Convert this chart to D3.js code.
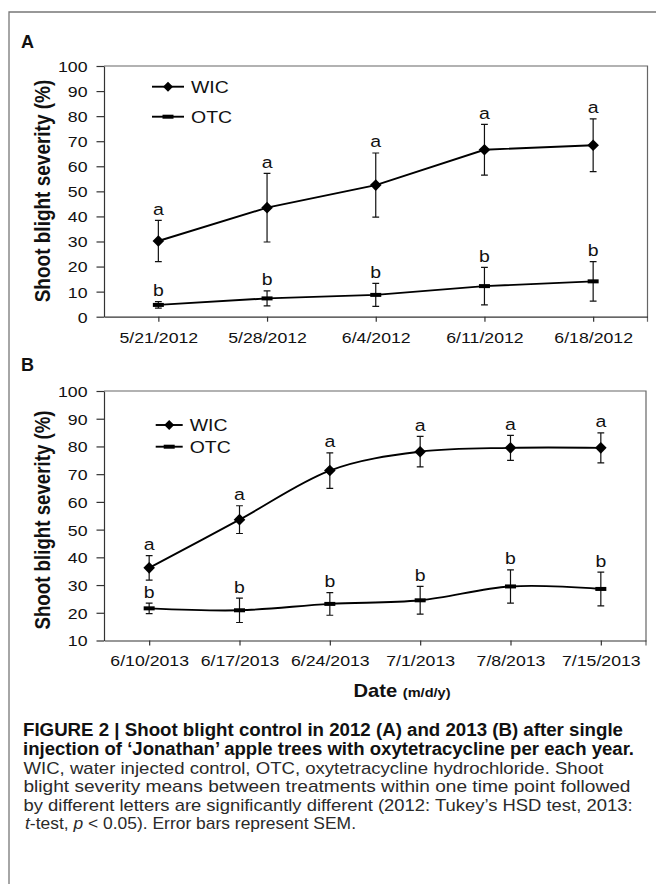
<!DOCTYPE html>
<html>
<head>
<meta charset="utf-8">
<script src="https://cdn.jsdelivr.net/npm/d3@7"></script>
<style>
  body { margin: 0; background: #fff; }
  text { font-family: "Liberation Sans", Arial, sans-serif; fill: #111; }
</style>
</head>
<body>
<div id="chart"></div>
<script>
//#region Data
const datesA = ["5/21/2012", "5/28/2012", "6/4/2012", "6/11/2012", "6/18/2012"];
const wicA = [30.2, 43.5, 52.5, 66.6, 68.4];
const wicErrA = [8.2, 13.7, 12.8, 10.1, 10.5];
const otcA = [4.7, 7.3, 8.7, 12.2, 14.1];
const otcErrA = [1.3, 3.0, 4.6, 7.5, 7.9];
const lettersWicA = ["a", "a", "a", "a", "a"];
const lettersOtcA = ["b", "b", "b", "b", "b"];
const yTicksA = [0, 10, 20, 30, 40, 50, 60, 70, 80, 90, 100];

const datesB = ["6/10/2013", "6/17/2013", "6/24/2013", "7/1/2013", "7/8/2013", "7/15/2013"];
const wicB = [36.2, 53.6, 71.3, 78.1, 79.5, 79.5];
const wicErrB = [4.4, 5.0, 6.4, 5.5, 4.5, 5.4];
const otcB = [21.6, 20.9, 23.2, 24.5, 29.5, 28.6];
const otcErrB = [1.9, 4.4, 4.1, 5.0, 6.0, 6.1];
const lettersWicB = ["a", "a", "a", "a", "a", "a"];
const lettersOtcB = ["b", "b", "b", "b", "b", "b"];
const yTicksB = [10, 20, 30, 40, 50, 60, 70, 80, 90, 100];

const seriesNames = ["WIC", "OTC"];

const captionBold = [
    "FIGURE 2 | Shoot blight control in 2012 (A) and 2013 (B) after single",
    "injection of \u2018Jonathan\u2019 apple trees with oxytetracycline per each year."
];
const captionRegular = [
    "WIC, water injected control, OTC, oxytetracycline hydrochloride. Shoot",
    "blight severity means between treatments within one time point followed",
    "by different letters are significantly different (2012: Tukey\u2019s HSD test, 2013:"
];
//#endregion

const W = 656, H = 884;
const STRETCH = 1.18; // the figure text is a little wide

const svg = d3.select("#chart").append("svg")
    .attr("width", W)
    .attr("height", H);

// outer frame (only top and left show in the crop)
svg.append("path")
    .attr("d", `M9,${H} L9,12 L${W},12`)
    .attr("fill", "none")
    .attr("stroke", "#777")
    .attr("stroke-width", 1.3);

function stretchedText(g, x, y, str, size, weight, anchor) {
    return g.append("text")
        .attr("transform", `translate(${x},${y}) scale(${STRETCH},1)`)
        .attr("text-anchor", anchor || "start")
        .style("font-size", size + "px")
        .style("font-weight", weight || "normal")
        .text(str);
}

function diamond(g, cx, cy, r) {
    g.append("path")
        .attr("d", `M${cx},${cy - r} L${cx + r},${cy} L${cx},${cy + r} L${cx - r},${cy} Z`)
        .attr("fill", "#000");
}

function dash(g, cx, cy) {
    g.append("rect")
        .attr("x", cx - 5.5).attr("y", cy - 2)
        .attr("width", 11).attr("height", 4)
        .attr("fill", "#000");
}

//#region Panels
function drawPanel(cfg) {
    const g = svg.append("g");

    const x = d3.scalePoint()
        .domain(cfg.dates)
        .range([cfg.left, cfg.right])
        .padding(0.5);

    const y = d3.scaleLinear()
        .domain([cfg.yTicks[0], cfg.yTicks[cfg.yTicks.length - 1]])
        .range([cfg.bottom, cfg.top]);

    // plot area border
    g.append("path")
        .attr("d", `M${cfg.left},${cfg.top} L${cfg.right},${cfg.top} L${cfg.right},${cfg.bottom + 5}`)
        .attr("fill", "none")
        .attr("stroke", "#666")
        .attr("stroke-width", 1.2);

    // y axis
    const yAxis = g.append("g")
        .attr("transform", `translate(${cfg.left},0)`)
        .call(d3.axisLeft(y).tickValues(cfg.yTicks).tickSize(7.5).tickSizeOuter(0));
    yAxis.select(".domain").attr("stroke", "#333").attr("stroke-width", 1.2);
    yAxis.selectAll(".tick line").attr("stroke", "#333").attr("stroke-width", 1.2);
    yAxis.selectAll(".tick text")
        .attr("x", -14)
        .attr("dy", "0.36em")
        .attr("transform", `scale(${STRETCH},1)`)
        .style("font-size", "15px")
        .style("font-family", "Liberation Sans, Arial, sans-serif")
        .attr("fill", "#111");

    // x axis
    const xAxis = g.append("g")
        .attr("transform", `translate(0,${cfg.bottom})`)
        .call(d3.axisBottom(x).tickSize(5).tickSizeOuter(0));
    xAxis.select(".domain").attr("stroke", "#333").attr("stroke-width", 1.2);
    xAxis.selectAll(".tick line").attr("stroke", "#333").attr("stroke-width", 1.2);
    xAxis.selectAll(".tick text")
        .attr("y", cfg.tickLabelY - cfg.bottom)
        .attr("dy", 0)
        .attr("transform", `scale(${STRETCH},1)`)
        .style("font-size", "15px")
        .style("font-family", "Liberation Sans, Arial, sans-serif")
        .attr("fill", "#111");

    // y axis title
    g.append("text")
        .attr("transform", `translate(49.5,${cfg.titleY}) scale(${STRETCH},1) rotate(-90)`)
        .attr("text-anchor", "middle")
        .style("font-size", cfg.titleSize + "px")
        .style("font-weight", "bold")
        .text("Shoot blight severity (%)");

    // panel letter
    g.append("text")
        .attr("x", 21).attr("y", cfg.labelY)
        .style("font-size", "18px")
        .style("font-weight", "bold")
        .text(cfg.label);

    const line = d3.line()
        .x((d, i) => x(cfg.dates[i]))
        .y(d => y(d))
        .curve(cfg.smooth ? d3.curveCardinal.tension(0) : d3.curveLinear);

    const series = [
        { vals: cfg.wic, err: cfg.wicErr, letters: cfg.lettersWic, marker: "diamond" },
        { vals: cfg.otc, err: cfg.otcErr, letters: cfg.lettersOtc, marker: "dash" }
    ];

    series.forEach(s => {
        // error bars
        s.vals.forEach((v, i) => {
            const cx = x(cfg.dates[i]);
            const y1 = y(v + s.err[i]), y2 = y(v - s.err[i]);
            g.append("path")
                .attr("d", `M${cx},${y1} L${cx},${y2} M${cx - 3.4},${y1} L${cx + 3.4},${y1} M${cx - 3.4},${y2} L${cx + 3.4},${y2}`)
                .attr("fill", "none")
                .attr("stroke", "#111")
                .attr("stroke-width", 1.2);
            stretchedText(g, cx, y1 - 5.5, s.letters[i], 16.5, "normal", "middle");
        });

        g.append("path")
            .datum(s.vals)
            .attr("d", line)
            .attr("fill", "none")
            .attr("stroke", "#000")
            .attr("stroke-width", 1.9);

        s.vals.forEach((v, i) => {
            const cx = x(cfg.dates[i]);
            if (s.marker === "diamond") diamond(g, cx, y(v), 5.8);
            else dash(g, cx, y(v));
        });
    });

    // legend
    seriesNames.forEach((name, i) => {
        const ly = cfg.legendY[i];
        const lx0 = cfg.legendX[0], lx1 = cfg.legendX[1];
        g.append("line")
            .attr("x1", lx0).attr("x2", lx1)
            .attr("y1", ly).attr("y2", ly)
            .attr("stroke", "#000").attr("stroke-width", 1.9);
        if (i === 0) diamond(g, (lx0 + lx1) / 2, ly, 5);
        else dash(g, (lx0 + lx1) / 2, ly);
        stretchedText(g, lx1 + 7, ly + 6, name, 16.5);
    });

    return { x, y };
}

drawPanel({
    label: "A", labelY: 47.5,
    dates: datesA, wic: wicA, wicErr: wicErrA, otc: otcA, otcErr: otcErrA,
    lettersWic: lettersWicA, lettersOtc: lettersOtcA, yTicks: yTicksA,
    left: 104, right: 647.5, top: 66, bottom: 316.7,
    tickLabelY: 343.5, titleY: 191, titleSize: 19,
    legendX: [152, 184], legendY: [86.7, 116.7],
    smooth: false
});

drawPanel({
    label: "B", labelY: 371,
    dates: datesB, wic: wicB, wicErr: wicErrB, otc: otcB, otcErr: otcErrB,
    lettersWic: lettersWicB, lettersOtc: lettersOtcB, yTicks: yTicksB,
    left: 104, right: 646, top: 391, bottom: 640.5,
    tickLabelY: 666, titleY: 520, titleSize: 18.7,
    legendX: [155.7, 182.7], legendY: [425, 446.7],
    smooth: true
});

// x axis title for panel B
const xt = svg.append("text")
    .attr("transform", `translate(353.5,697) scale(1.12,1)`)
    .style("font-weight", "bold");
xt.append("tspan").style("font-size", "18px").text("Date ");
xt.append("tspan").style("font-size", "13px").text("(m/d/y)");
//#endregion

//#region Caption
const capBoldY = [736, 755];
const capBoldLen = [600, 611];
captionBold.forEach((t, i) => {
    svg.append("text")
        .attr("x", 23).attr("y", capBoldY[i])
        .attr("textLength", capBoldLen[i])
        .attr("lengthAdjust", "spacingAndGlyphs")
        .style("font-size", "18px")
        .style("font-weight", "bold")
        .text(t);
});

const capRegY = [773.5, 792, 810.5];
const capRegLen = [580, 607, 609];
captionRegular.forEach((t, i) => {
    svg.append("text")
        .attr("x", 23.5).attr("y", capRegY[i])
        .attr("textLength", capRegLen[i])
        .attr("lengthAdjust", "spacingAndGlyphs")
        .style("font-size", "17px")
        .style("fill", "#2a2a2a")
        .text(t);
});

const last = svg.append("text")
    .attr("x", 25).attr("y", 829)
    .attr("textLength", 331)
    .attr("lengthAdjust", "spacingAndGlyphs")
    .style("font-size", "17px")
    .style("fill", "#2a2a2a");
last.append("tspan").style("font-style", "italic").text("t");
last.append("tspan").text("-test, ");
last.append("tspan").style("font-style", "italic").text("p");
last.append("tspan").text(" < 0.05). Error bars represent SEM.");
//#endregion
</script>
</body>
</html>
